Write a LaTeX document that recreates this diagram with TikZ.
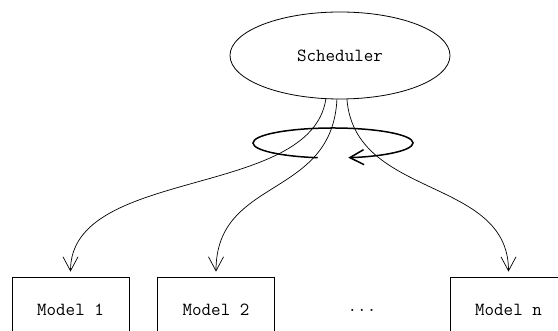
\documentclass[tikz,border=0pt]{standalone}
\usetikzlibrary{arrows.meta, shapes.geometric}

\begin{document}
\begin{tikzpicture}[x=1pt, y=1pt,
    every node/.style={font=\ttfamily\fontsize{18.5}{20}\selectfont},
    model/.style={draw, line width=0.8pt, minimum width=117pt, minimum height=66pt, inner sep=0pt},
    flow/.style={line width=0.7pt, shorten >=5pt, -{Straight Barb[length=14pt, width=15pt]}}]
      \useasboundingbox (0,0) rectangle (558,331);
      % scheduler on top
      \node[draw, ellipse, line width=0.8pt, minimum width=220pt, minimum height=87pt, inner sep=0pt] (sched) at (340,275.5) {Scheduler};
      % round-robin loop below it
      \coordinate (spin) at (333,188);
      \draw[line width=1.5pt, -{Straight Barb[length=14pt, width=15pt]}]
        ([shift={(259:80pt and 15pt)}]spin) arc[start angle=259, end angle=-79, x radius=80pt, y radius=15pt];
      % the models
      \node[model] (m1) at (70.5,21) {Model 1};
      \node[model] (m2) at (216,21) {Model 2};
      \node (dots) at (362,21) {...};
      \node[model] (mn) at (508.5,21) {Model n};
      % dispatch
      \draw[flow] (sched.-108) .. controls +(-15,-100) and +(0,110) .. (m1.north);
      \draw[flow] (sched.-94) .. controls +(-5,-100) and +(0,100) .. (m2.north);
      \draw[flow] (sched.-81) .. controls +(8,-100) and +(0,100) .. (mn.north);
\end{tikzpicture}
\end{document}
